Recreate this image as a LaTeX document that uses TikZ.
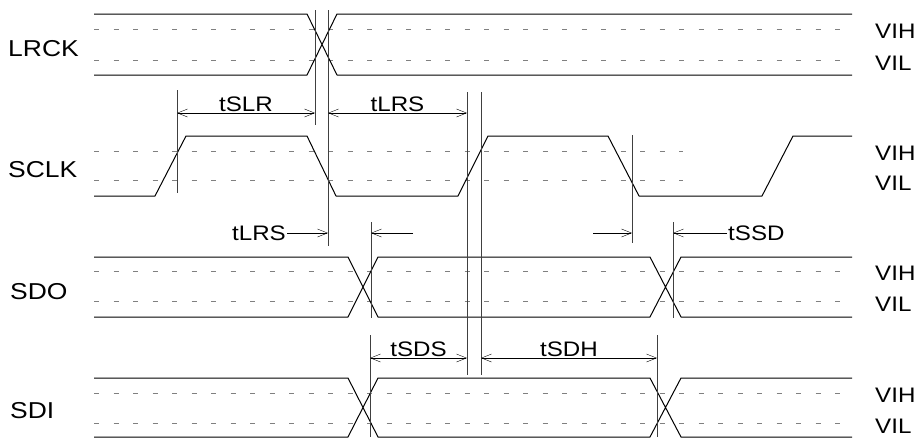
\documentclass[tikz,border=0pt]{standalone}
\usepackage{fontspec}
\setmainfont{Liberation Sans}[FakeStretch=1.15]
\usetikzlibrary{arrows.meta}
\begin{document}
\begin{tikzpicture}[x=1pt,y=-1pt,>={Straight Barb[length=10pt,width=8pt]}, line join=round,
	sig/.style={line width=1pt},
	lvl/.style={gray,line width=0.8pt,dash pattern=on 5pt off 14.5pt},
	vline/.style={black!75,line width=0.9pt},
	signame/.style={font=\fontsize{23}{23}\selectfont,anchor=west,inner sep=0pt},
	lvname/.style={font=\fontsize{21}{21}\selectfont,anchor=west,inner sep=0pt},
	tname/.style={font=\fontsize{21}{21}\selectfont,inner sep=1pt}]
	\useasboundingbox (0,0) rectangle (919,439);
	\def\xa{94} \def\xb{852} % start, end
	% threshold levels
	\foreach \y in {29,60,271,301,393,423}
	\draw[lvl] (\xa,\y)--(840,\y);
	\foreach \y in {151,180}
	\draw[lvl] (\xa,\y)--(683,\y);
	\foreach \h/\l [count=\i] in {29/60,151/180,271/301,393/423}{
		\node[lvname] (vih\i) at (875,\h+2) {VIH};
		\node[lvname] (vil\i) at (875,\l+3) {VIL};
	}
	% LRCK
	\draw[sig] (\xa,14)--(307,14)--(337,75)--(\xb,75) (\xa,75)--(307,75)--(337,14)--(\xb,14);
	% SCLK
	\draw[sig] (\xa,196)--(155,196)--(186,136)--(307,136)--(336,196)--(458,196)--(488,136)--(608,136)--(639,196)--(762,196)--(793,136)--(\xb,136);
	% SDO, SDI
	\foreach \t/\b in {257/317,378/437}
	\draw[sig] (\xa,\t)--(348,\t)--(378,\b)--(650,\b)--(681,\t)--(\xb,\t)
	(\xa,\b)--(348,\b)--(378,\t)--(650,\t)--(681,\b)--(\xb,\b);
	\node[signame] (lrck) at (8,49) {LRCK};
	\node[signame] (sclk) at (8,170) {SCLK};
	\node[signame] (sdo) at (10,292) {SDO};
	\node[signame] (sdi) at (10,411) {SDI};
	% reference edges
	\draw[vline] (315,10)--(315,125) (328,10)--(328,246) (177,90)--(177,193)
	(467,92)--(467,375) (481,92)--(481,375) (632,135)--(632,243)
	(371,222)--(371,318) (673,222)--(673,318) (370,335)--(370,437) (657,335)--(657,437);
	% timing
	\coordinate (slrA) at (177,113); \coordinate (slrB) at (315,113);
	\coordinate (lrsA) at (328,113); \coordinate (lrsB) at (467,113);
	\coordinate (sdsA) at (370,358); \coordinate (sdsB) at (467,358);
	\coordinate (sdhA) at (481,358); \coordinate (sdhB) at (657,358);
	\draw[<->] (slrA)--(slrB) node[tname,midway,above] (tslr) {tSLR};
	\draw[<->] (lrsA)--(lrsB) node[tname,midway,above] (tlrs) {tLRS};
	\draw[<->] (sdsA)--(sdsB) node[tname,midway,above] (tsds) {tSDS};
	\draw[<->] (sdhA)--(sdhB) node[tname,midway,above] (tsdh) {tSDH};
	\node[tname,anchor=east] (tlrs2) at (287,233) {tLRS};
	\node[tname,anchor=west] (tssd) at (727,233) {tSSD};
	\coordinate (lrsC) at (328,233); \coordinate (lrsD) at (413,233); \coordinate (lrsE) at (371,233);
	\coordinate (ssdA) at (593,233); \coordinate (ssdB) at (632,233); \coordinate (ssdC) at (673,233);
	\draw[->] (tlrs2)--(lrsC);
	\draw[->] (lrsD)--(lrsE);
	\draw[->] (ssdA)--(ssdB);
	\draw[->] (tssd)--(ssdC);
\end{tikzpicture}
\end{document}
